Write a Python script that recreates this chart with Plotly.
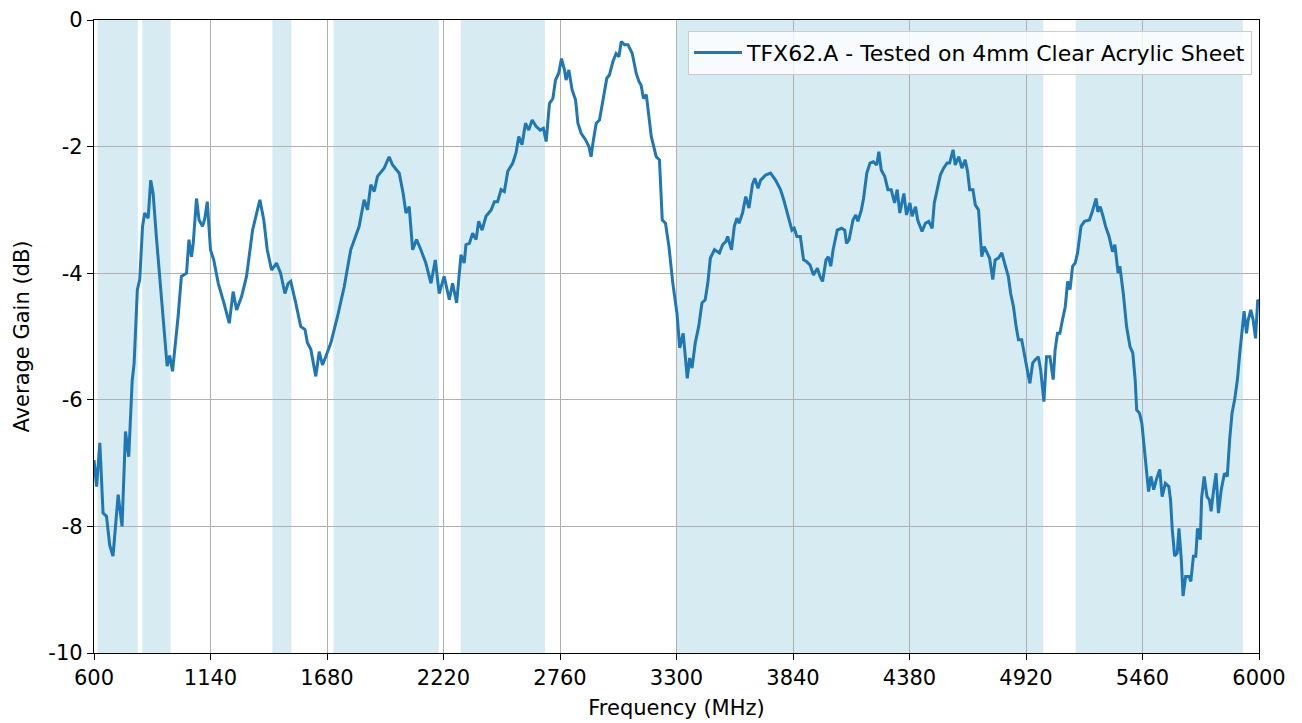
import plotly.graph_objects as go

# ---- data ----
freq_mhz = [
    600, 612, 627, 642, 658, 673, 688, 696, 712, 730, 738, 746, 761, 774, 777, 786,
    801, 812, 825, 835, 851, 863, 874, 889, 908, 924, 939, 951, 964, 990, 1005, 1029,
    1040, 1052, 1060, 1075, 1087, 1103, 1114, 1125, 1140, 1155, 1176, 1202, 1227, 1245,
    1261, 1284, 1307, 1335, 1369, 1387, 1403, 1423, 1446, 1465, 1485, 1500,
    1512, 1535, 1558, 1578, 1589, 1605, 1628, 1644, 1659, 1674, 1698, 1729, 1760, 1790,
    1829, 1852, 1868, 1883, 1899, 1914, 1945, 1968, 1984, 2015, 2033, 2046, 2061, 2077,
    2095, 2115, 2138, 2162, 2182, 2200, 2223, 2247, 2262, 2281, 2301, 2316, 2324, 2340,
    2355, 2371, 2383, 2399, 2417, 2441, 2456, 2471, 2487, 2502, 2518, 2541, 2556, 2569,
    2584, 2600, 2615, 2631, 2649, 2668, 2683, 2696, 2711, 2727, 2739, 2754, 2767, 2781,
    2788, 2801, 2816, 2832, 2843, 2858, 2878, 2894, 2904, 2915, 2928, 2943, 2959, 2977,
    2989, 3005, 3020, 3033, 3044, 3059, 3075, 3095, 3113, 3126, 3136, 3147, 3160, 3183,
    3206, 3221, 3234, 3249, 3265, 3283, 3302, 3315, 3331, 3350, 3361, 3372, 3387, 3403,
    3418, 3433, 3445, 3457, 3476, 3499, 3514, 3529, 3537, 3555, 3568, 3580, 3590, 3606,
    3621, 3636, 3652, 3663, 3678, 3690, 3713, 3736, 3759, 3782, 3797, 3813, 3825, 3835,
    3846, 3858, 3874, 3889, 3904, 3919, 3935, 3953, 3965, 3977, 3993, 4004, 4015, 4026,
    4045, 4065, 4080, 4088, 4100, 4118, 4131, 4141, 4157, 4167, 4182, 4197, 4212, 4228,
    4238, 4249, 4265, 4280, 4295, 4311, 4323, 4335, 4354, 4366, 4382, 4392, 4408, 4418,
    4438, 4454, 4469, 4485, 4495, 4508, 4523, 4538, 4554, 4566, 4582, 4592, 4608, 4623,
    4638, 4649, 4659, 4674, 4685, 4700, 4708, 4715, 4726, 4742, 4751, 4766, 4777, 4792,
    4808, 4823, 4838, 4849, 4862, 4874, 4885, 4900, 4915, 4926, 4938, 4951, 4962, 4977,
    4988, 4997, 5003, 5015, 5031, 5046, 5055, 5066, 5077, 5089, 5102, 5113, 5124, 5136,
    5148, 5159, 5175, 5191, 5214, 5227, 5238, 5245, 5253, 5264, 5277, 5289, 5305, 5321,
    5332, 5347, 5355, 5371, 5386, 5402, 5415, 5426, 5433, 5446, 5457, 5468, 5480, 5488,
    5499, 5512, 5524, 5540, 5551, 5566, 5582, 5590, 5598, 5609, 5621, 5629, 5640, 5648,
    5660, 5676, 5684, 5696, 5707, 5715, 5728, 5734, 5746, 5759, 5770, 5778, 5790, 5801,
    5812, 5825, 5840, 5853, 5864, 5875, 5887, 5900, 5911, 5922, 5931, 5942, 5950, 5962,
    5973, 5984, 5994, 6000,
]

avg_gain_db = [
    -6.95, -7.37, -6.68, -7.79, -7.84, -8.30, -8.47, -8.10, -7.50, -8.00, -7.05, -6.50, -6.90, -6.00, -5.70, -5.42,
    -4.26, -4.10, -3.26, -3.05, -3.13, -2.53, -2.74, -3.42, -4.16, -4.84, -5.47, -5.30, -5.55, -4.68, -4.05, -4.00,
    -3.47, -3.74, -3.53, -2.82, -3.16, -3.26, -3.13, -2.87, -3.63, -3.79, -4.16, -4.47, -4.79, -4.29,
    -4.58, -4.37, -4.05, -3.32, -2.84, -3.16, -3.63, -3.95, -3.84, -4.00, -4.32, -4.16,
    -4.13, -4.47, -4.84, -4.89, -5.10, -5.20, -5.63, -5.24, -5.45, -5.32, -5.10, -4.68, -4.21, -3.63,
    -3.26, -2.84, -3.00, -2.60, -2.71, -2.47, -2.34, -2.16, -2.29, -2.42, -2.74, -3.05, -2.95, -3.63,
    -3.47, -3.63, -3.84, -4.16, -3.79, -4.32, -4.05, -4.42, -4.16, -4.47, -3.71, -3.84, -3.55, -3.53,
    -3.37, -3.47, -3.18, -3.32, -3.10, -3.00, -2.87, -2.87, -2.68, -2.71, -2.39, -2.26, -2.10, -1.84,
    -1.97, -1.63, -1.74, -1.58, -1.68, -1.74, -1.71, -1.92, -1.32, -1.24, -0.95, -0.84, -0.61, -0.79,
    -0.95, -0.79, -1.10, -1.26, -1.63, -1.79, -1.89, -2.00, -2.16, -1.89, -1.63, -1.58, -1.26, -0.92,
    -0.87, -0.66, -0.53, -0.58, -0.34, -0.39, -0.39, -0.53, -0.84, -0.97, -1.03, -1.24, -1.18, -1.84,
    -2.16, -2.21, -3.16, -3.21, -3.58, -4.16, -4.63, -5.18, -4.95, -5.66, -5.34, -5.50, -5.10, -4.84,
    -4.47, -4.42, -4.16, -3.76, -3.63, -3.68, -3.55, -3.50, -3.42, -3.63, -3.26, -3.13, -3.21, -3.05,
    -2.79, -2.97, -2.60, -2.50, -2.66, -2.53, -2.45, -2.42, -2.53, -2.68, -2.84, -3.03, -3.16, -3.32,
    -3.29, -3.42, -3.42, -3.79, -3.82, -3.87, -4.03, -3.92, -4.05, -4.13, -3.79, -3.74, -3.89, -3.63,
    -3.32, -3.29, -3.32, -3.53, -3.47, -3.16, -3.08, -3.18, -3.00, -2.82, -2.42, -2.26, -2.24, -2.29,
    -2.08, -2.37, -2.47, -2.68, -2.68, -2.89, -2.68, -3.05, -2.74, -3.08, -2.89, -3.10, -2.95, -3.16,
    -3.34, -3.21, -3.18, -3.29, -2.89, -2.66, -2.45, -2.34, -2.26, -2.26, -2.05, -2.29, -2.16, -2.34,
    -2.21, -2.39, -2.68, -2.68, -2.92, -3.00, -3.42, -3.74, -3.58, -3.68, -3.76, -4.10, -3.79, -3.76,
    -3.68, -3.87, -4.05, -4.32, -4.53, -4.84, -5.05, -5.05, -5.37, -5.53, -5.74, -5.42, -5.37, -5.32,
    -5.53, -5.79, -6.03, -5.32, -5.32, -5.68, -5.21, -4.95, -4.95, -4.74, -4.53, -4.13, -4.26, -3.89,
    -3.84, -3.68, -3.26, -3.18, -3.16, -3.03, -2.89, -2.82, -3.03, -2.95, -3.10, -3.26, -3.42, -3.66,
    -3.55, -4.00, -3.89, -4.32, -4.84, -5.16, -5.26, -5.68, -6.16, -6.21, -6.37, -6.74, -7.16, -7.45,
    -7.21, -7.42, -7.26, -7.10, -7.53, -7.32, -7.37, -7.58, -8.05, -8.47, -8.42, -8.03, -8.53, -9.10,
    -8.79, -8.79, -8.87, -8.47, -8.47, -8.03, -8.21, -7.55, -7.21, -7.53, -7.58, -7.76, -7.42, -7.16,
    -7.79, -7.42, -7.16, -7.21, -6.63, -6.21, -6.00, -5.68, -5.26, -4.84, -4.60, -4.95, -4.74, -4.58,
    -4.74, -5.03, -4.42, -4.45,
]

band_starts = [617, 824, 1427, 1710, 2300, 3300, 5150]
band_ends = [803, 955, 1515, 2198, 2690, 5000, 5925]

x_tick_vals = [600, 1140, 1680, 2220, 2760, 3300, 3840, 4380, 4920, 5460, 6000]
x_tick_text = ["600", "1140", "1680", "2220", "2760", "3300", "3840", "4380", "4920", "5460", "6000"]
y_tick_vals = [-10, -8, -6, -4, -2, 0]
y_tick_text = ["-10", "-8", "-6", "-4", "-2", "0"]

series_name = "TFX62.A - Tested on 4mm Clear Acrylic Sheet"

# ---- figure ----
FONT = "DejaVu Sans"
fig = go.Figure()

for b0, b1 in zip(band_starts, band_ends):
    fig.add_vrect(x0=b0, x1=b1, fillcolor="#d6ebf2", opacity=1.0,
                  line_width=0, layer="below")

fig.add_trace(go.Scatter(
    x=freq_mhz, y=avg_gain_db, mode="lines", name=series_name,
    line=dict(color="#1f77b4", width=3),
))

axis_common = dict(
    showline=True, linecolor="black", linewidth=1.3, mirror=True,
    ticks="outside", ticklen=6, tickwidth=1.3, tickcolor="black",
    showgrid=True, gridcolor="#b0b0b0", gridwidth=1.4,
    zeroline=False, automargin=False,
    tickfont=dict(family=FONT, size=21, color="black"),
)

fig.update_xaxes(
    range=[600, 6000], tickmode="array", tickvals=x_tick_vals, ticktext=x_tick_text,
    title=dict(text="Frequency (MHz)", font=dict(family=FONT, size=21, color="black"), standoff=10),
    **axis_common,
)
fig.update_yaxes(
    range=[-10, 0], tickmode="array", tickvals=y_tick_vals, ticktext=y_tick_text,
    title=dict(text="Average Gain (dB)", font=dict(family=FONT, size=21, color="black"), standoff=12),
    **axis_common,
)

# the page body adds an 8 px offset, so the figure is sized to fit the window
fig.update_layout(
    width=1294, height=715,
    margin=dict(l=86, r=43, t=12, b=70),
    paper_bgcolor="white", plot_bgcolor="white",
    font=dict(family=FONT, size=21, color="black"),
    showlegend=True,
    legend=dict(
        x=0.994, y=0.983, xanchor="right", yanchor="top",
        bgcolor="rgba(255,255,255,0.8)", bordercolor="#cccccc", borderwidth=1,
        font=dict(family=FONT, size=22, color="black"),
        itemwidth=48,
    ),
)

fig.write_html("out.html")
